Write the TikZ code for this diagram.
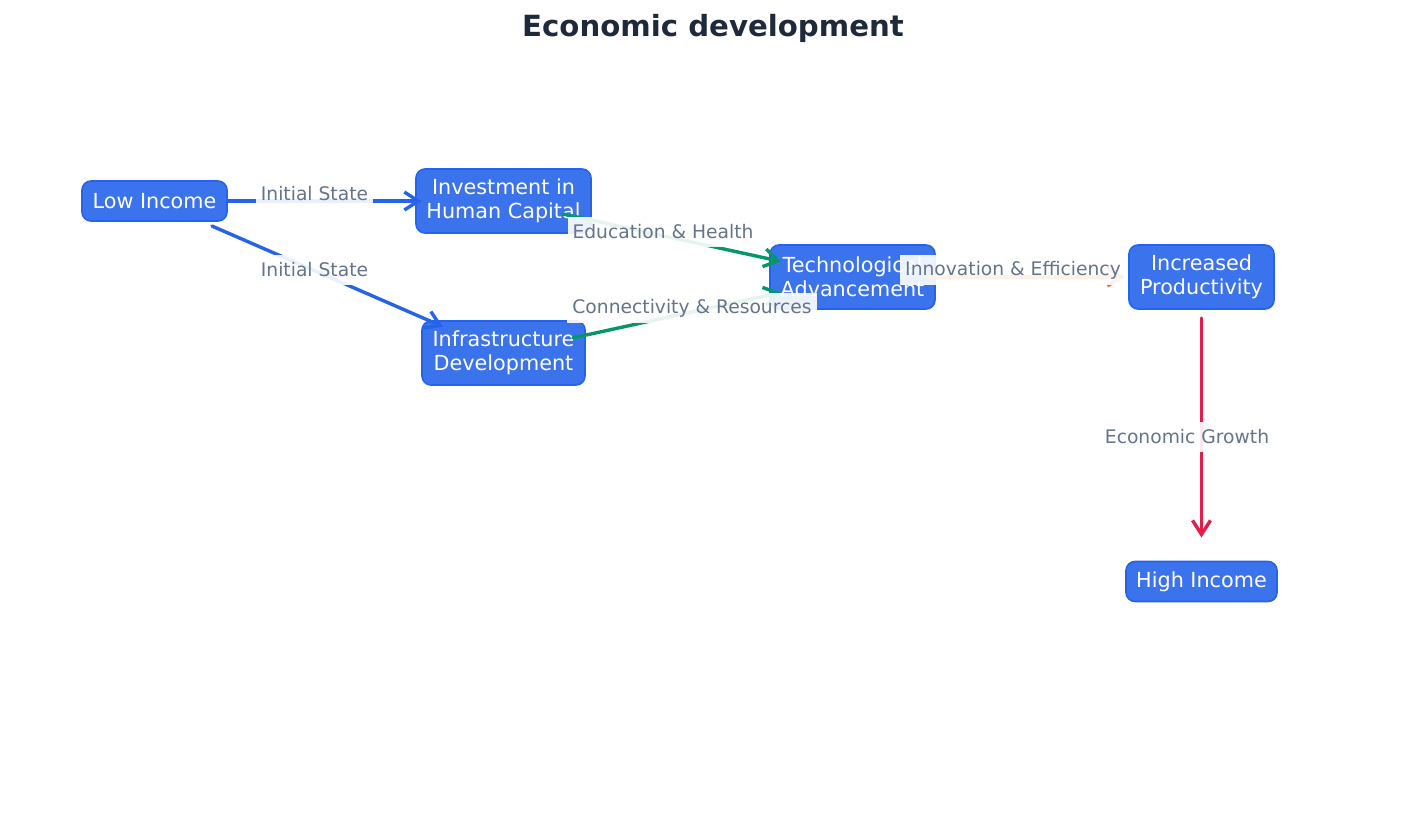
\documentclass[tikz,border=0pt]{standalone}
\usepackage{fontspec}
\setmainfont{DejaVu Sans}
\usetikzlibrary{arrows.meta,calc}
\definecolor{nodefill}{HTML}{3B73ED}
\definecolor{nodeborder}{HTML}{2563EB}
\definecolor{eblue}{HTML}{2563EB}
\definecolor{egreen}{HTML}{059669}
\definecolor{eorange}{HTML}{F97316}
\definecolor{ered}{HTML}{E11D48}
\definecolor{labeltext}{HTML}{64748B}
\definecolor{titletext}{HTML}{1E293B}
\tikzset{
  box/.style={draw=nodeborder, line width=0.8pt, fill=nodefill, rounded corners=4.5pt,
    text=white, align=center, inner xsep=4pt, inner ysep=1pt,
    font=\fontsize{10.37}{11.9}\selectfont},
  onebox/.style={box, minimum height=20pt},
  twobox/.style={box, minimum height=32pt},
  conn/.style={line width=1.7pt, line cap=round, line join=round,
    -{Straight Barb[length=7pt,width=9pt,line width=1.7pt]}},
  elabel/.style={fill=white, fill opacity=0.9, text opacity=1, text=labeltext,
    inner xsep=2.5pt, inner ysep=0pt, minimum height=15pt,
    font=\fontsize{9.35}{11}\selectfont}
}
\begin{document}
\begin{tikzpicture}[x=0.5pt, y=-0.5pt]
\useasboundingbox (0,0) rectangle (1425,825);
\node[font=\fontsize{14.6}{17}\selectfont\bfseries, text=titletext] (title) at (713,28) {Economic development};
% nodes
\node[onebox, minimum width=72.5pt] (low) at (154.5,201) {Low Income};
\node[twobox, minimum width=87.5pt] (hum) at (503.5,201) {Investment in\\Human Capital};
\node[twobox, minimum width=81.5pt] (infra) at (503.5,353) {Infrastructure\\Development};
\node[twobox, minimum width=82.5pt] (tech) at (852.5,277) {Technological\\Advancement};
\node[twobox, minimum width=72.5pt] (prod) at (1201.5,277) {Increased\\Productivity};
\node[onebox, minimum width=75.5pt] (high) at (1201.5,581.5) {High Income};
% connectors
\draw[conn, eblue] ($(low.center)!36.75pt!(hum.center)$) -- ($(hum.center)!41pt!(low.center)$);
\draw[conn, eblue] ($(low.center)!31.35pt!(infra.center)$) -- ($(infra.center)!33pt!(low.center)$);
\draw[conn, egreen] ($(hum.center)!30.5pt!(tech.center)$) -- ($(tech.center)!36.5pt!(hum.center)$);
\draw[conn, egreen] ($(infra.center)!35.5pt!(tech.center)$) -- ($(tech.center)!36.5pt!(infra.center)$);
\draw[conn, eorange] ($(tech.center)!37pt!(prod.center)$) -- ($(prod.center)!38.5pt!(tech.center)$);
\draw[conn, ered] ($(prod.center)!20.5pt!(high.center)$) -- ($(high.center)!22pt!(prod.center)$);
% connector labels
\node[elabel] (l1) at (314.5,194) {Initial State};
\node[elabel] (l2) at (314.5,270) {Initial State};
\node[elabel] (l3) at (663,232) {Education \& Health};
\node[elabel] (l4) at (692,308) {Connectivity \& Resources};
\node[elabel] (l5) at (1013,270) {Innovation \& Efficiency};
\node[elabel] (l6) at (1187,437) {Economic Growth};
\end{tikzpicture}
\end{document}
